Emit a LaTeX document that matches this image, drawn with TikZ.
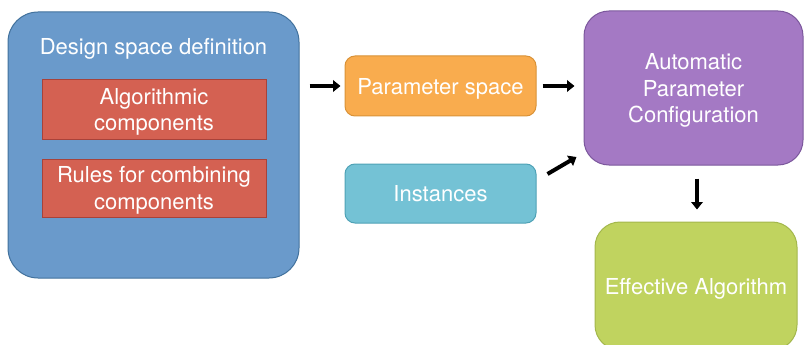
\documentclass[tikz,border=0pt]{standalone}
\usepackage{fontspec}
\setmainfont{TeX Gyre Heros}
\usetikzlibrary{arrows.meta,calc}
\definecolor{bluefill}{HTML}{6A9ACB}
\definecolor{blueline}{HTML}{41719C}
\definecolor{redfill}{HTML}{D46152}
\definecolor{redline}{HTML}{A8423A}
\definecolor{orangefill}{HTML}{F9AC4E}
\definecolor{orangeline}{HTML}{D99237}
\definecolor{cyanfill}{HTML}{74C2D5}
\definecolor{cyanline}{HTML}{4FA2B6}
\definecolor{purplefill}{HTML}{A479C4}
\definecolor{purpleline}{HTML}{7B579C}
\definecolor{greenfill}{HTML}{C0D35F}
\definecolor{greenline}{HTML}{A3B74C}
\tikzset{
  boxbase/.style={draw, line width=1pt, text=white, align=center,
    font=\fontsize{22}{26.5}\selectfont, inner sep=0pt, text depth=0pt},
  arr/.style={line width=4pt, -{Triangle[length=7.5pt,width=11.5pt]}}
}
\begin{document}
\begin{tikzpicture}[x=1pt,y=-1pt]
\useasboundingbox (0,0) rectangle (804,345);
\node[boxbase, fill=bluefill, draw=blueline, rounded corners=30pt,
  minimum width=291pt, minimum height=266pt] (blue) at (153.5,145) {};
\node[text=white, font=\fontsize{22}{26.5}\selectfont, inner sep=0pt, text depth=0pt] (title) at (153.5,46) {Design space definition};
\node[boxbase, fill=redfill, draw=redline,
  minimum width=224pt, minimum height=59pt] (red1) at (154,109.5) {Algorithmic\\components};
\node[boxbase, fill=redfill, draw=redline,
  minimum width=224pt, minimum height=58pt] (red2) at (154,188) {Rules for combining\\components};
\node[boxbase, fill=orangefill, draw=orangeline, rounded corners=10pt,
  minimum width=191pt, minimum height=60pt] (orange) at (440.5,86) {Parameter space};
\node[boxbase, fill=cyanfill, draw=cyanline, rounded corners=10pt,
  minimum width=191pt, minimum height=59pt] (cyan) at (440.5,193.5) {Instances};
\node[boxbase, fill=purplefill, draw=purpleline, rounded corners=25pt,
  minimum width=219pt, minimum height=154pt] (purple) at (693.5,88) {Automatic\\Parameter\\Configuration};
\node[boxbase, fill=greenfill, draw=greenline, rounded corners=25pt,
  minimum width=202pt, minimum height=128pt] (green) at (696,286) {Effective Algorithm};
\draw[arr] ([xshift=10pt]blue.east |- orange.west) -- ([xshift=-4pt]orange.west);
\draw[arr] ([xshift=6pt]orange.east) -- ([xshift=-9pt]orange.east -| purple.west);
\draw[arr] ([shift={(11,-19.5)}]cyan.east) -- ([shift={(-7,69)}]purple.west);
\draw[arr] ($(purple.south)+(3.5,13)$) -- ($(green.north)+(1,-12)$);
\end{tikzpicture}
\end{document}
